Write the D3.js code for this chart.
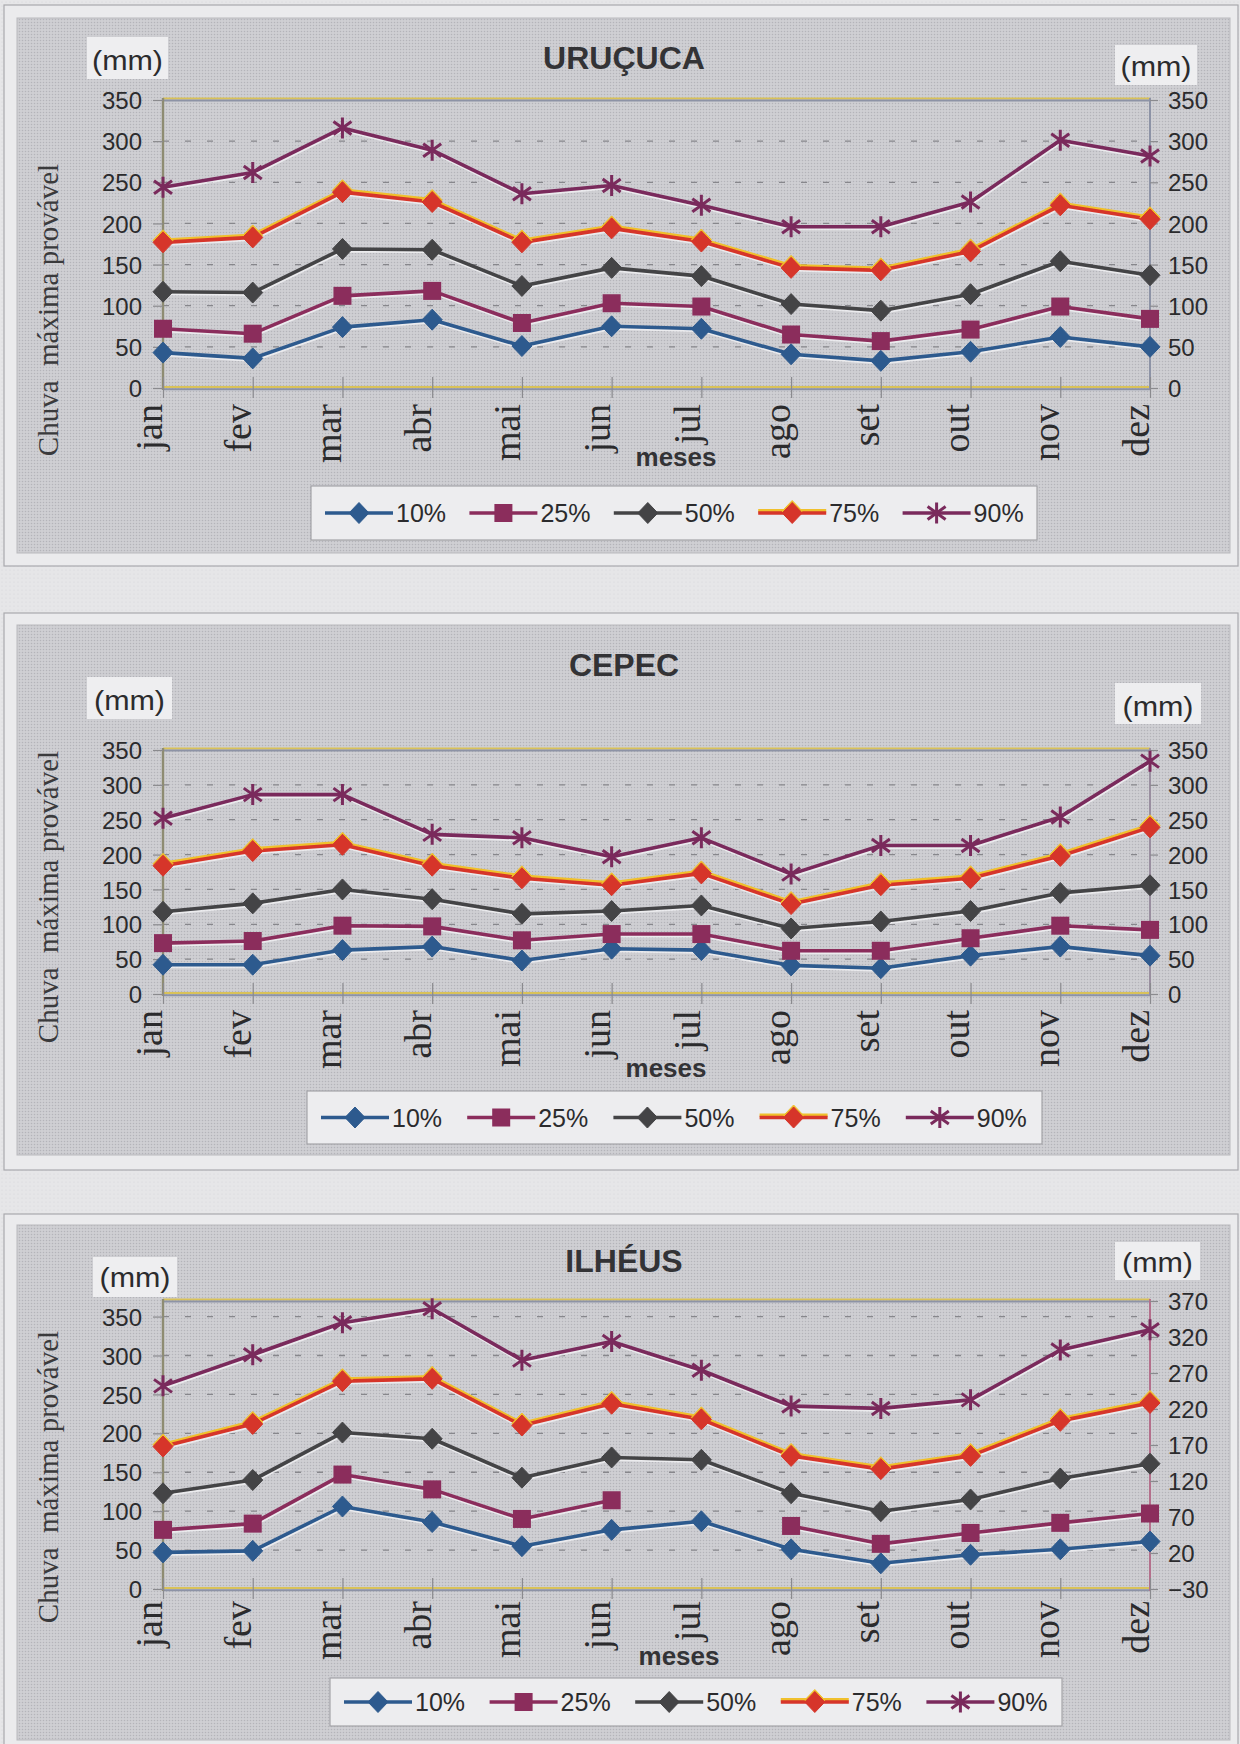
<!DOCTYPE html>
<html lang="pt">
<head>
<meta charset="utf-8">
<title>Chuva máxima provável</title>
<script src="https://cdn.jsdelivr.net/npm/d3@7"></script>
<style>
  html, body { margin: 0; padding: 0; background: #e4e4e6; }
  svg { display: block; }
</style>
</head>
<body>
<svg id="page" width="1240" height="1744"></svg>
<script>
// Months and probability levels
const months = ["jan", "fev", "mar", "abr", "mai", "jun", "jul", "ago", "set", "out", "nov", "dez"];
const levels = ["10%", "25%", "50%", "75%", "90%"];

// URUÇUCA (mm)
const uru10 = [43, 36, 74, 83, 51, 75, 72, 41, 33, 44, 62, 50];
const uru25 = [72, 66, 112, 118, 79, 103, 99, 65, 57, 71, 99, 84];
const uru50 = [117, 116, 169, 168, 124, 146, 136, 102, 94, 114, 154, 137];
const uru75 = [177, 183, 238, 226, 177, 194, 178, 146, 143, 166, 222, 205];
const uru90 = [244, 262, 316, 289, 236, 246, 222, 196, 196, 226, 301, 282];

// CEPEC (mm)
const cep10 = [42, 42, 63, 68, 48, 65, 63, 41, 37, 55, 68, 55];
const cep25 = [73, 76, 98, 97, 77, 86, 86, 62, 62, 80, 98, 92];
const cep50 = [118, 130, 150, 136, 115, 119, 127, 94, 104, 119, 145, 156];
const cep75 = [184, 205, 214, 184, 166, 156, 173, 129, 156, 166, 198, 239];
const cep90 = [252, 286, 286, 229, 224, 197, 224, 172, 213, 213, 254, 334];

// ILHÉUS (mm) — no 25% value for jul
const ilh10 = [47, 49, 106, 86, 55, 76, 87, 51, 33, 44, 51, 61];
const ilh25 = [76, 84, 147, 128, 90, 114, null, 81, 58, 72, 85, 97];
const ilh50 = [123, 140, 201, 193, 143, 169, 166, 123, 100, 115, 142, 161];
const ilh75 = [183, 212, 267, 270, 210, 238, 218, 171, 154, 171, 216, 239];
const ilh90 = [261, 301, 342, 360, 294, 318, 281, 235, 232, 243, 307, 333];

// Axis tick labels
const ticks0to350 = [0, 50, 100, 150, 200, 250, 300, 350];
const ticksIlheusRight = [-30, 20, 70, 120, 170, 220, 270, 320, 370];

// Station definitions
const stations = [
  { title: "URUÇUCA", series: [uru10, uru25, uru50, uru75, uru90],
    leftDomain: [0, 350], leftTicks: ticks0to350,
    rightDomain: [0, 350], rightTicks: ticks0to350 },
  { title: "CEPEC", series: [cep10, cep25, cep50, cep75, cep90],
    leftDomain: [0, 350], leftTicks: ticks0to350,
    rightDomain: [0, 350], rightTicks: ticks0to350 },
  { title: "ILHÉUS", series: [ilh10, ilh25, ilh50, ilh75, ilh90],
    leftDomain: [0, 370], leftTicks: ticks0to350,
    rightDomain: [-30, 370], rightTicks: ticksIlheusRight }
];

// Page layout of each panel
const layouts = [
  { outer: [4, 5, 1234, 561], panel: [17, 18, 1213, 535],
    plot: { left: 163, right: 1150, top: 100, bottom: 388 }, monthGap: 16,
    titleY: 69, mmL: [87, 37, 81, 42, 70], mmR: [1115, 45, 82, 40, 76],
    ylabY: 310, meses: [676, 466], legend: [311, 486, 726, 54], rightAxisColor: "#8d93a6" },
  { outer: [4, 613, 1234, 557], panel: [17, 625, 1213, 530],
    plot: { left: 163, right: 1150, top: 750, bottom: 994 }, monthGap: 16,
    titleY: 676, mmL: [87, 677, 85, 42, 710], mmR: [1115, 683, 86, 41, 716],
    ylabY: 897, meses: [666, 1077], legend: [307, 1091, 735, 53], rightAxisColor: "#9a8fa0" },
  { outer: [4, 1214, 1234, 540], panel: [17, 1225, 1213, 515],
    plot: { left: 163, right: 1150, top: 1301, bottom: 1589 }, monthGap: 12,
    titleY: 1272, mmL: [93, 1257, 84, 40, 1287], mmR: [1115, 1242, 85, 38, 1272],
    ylabY: 1477, meses: [679, 1665], legend: [330, 1678, 732, 48], rightAxisColor: "#b4708c" }
];

// Series styling
const styles = [
  { color: "#2d5a8e", marker: "diamond" },
  { color: "#8b2d5c", marker: "square" },
  { color: "#444446", marker: "diamond" },
  { color: "#d6352a", marker: "diamond", under: "#f0c02c" },
  { color: "#7a2a5c", marker: "star" }
];

const SANS = "'Liberation Sans', Arial, Helvetica, sans-serif";
const SERIF = "'Liberation Serif', 'Times New Roman', serif";
const TEXT = "#2b2b2d";

const svg = d3.select("#page");
const defs = svg.append("defs");

// Halftone screen of the printed grey
const pat = defs.append("pattern").attr("id", "screen")
  .attr("width", 3).attr("height", 3).attr("patternUnits", "userSpaceOnUse");
pat.append("rect").attr("width", 3).attr("height", 3).attr("fill", "#cfcfd3");
pat.append("circle").attr("cx", 1.5).attr("cy", 1.5).attr("r", 0.75).attr("fill", "#b4b4b9");

const pat2 = defs.append("pattern").attr("id", "paper")
  .attr("width", 4).attr("height", 4).attr("patternUnits", "userSpaceOnUse");
pat2.append("rect").attr("width", 4).attr("height", 4).attr("fill", "#e6e6e8");
pat2.append("circle").attr("cx", 2).attr("cy", 2).attr("r", 0.6).attr("fill", "#d6d6d9");

svg.append("rect").attr("width", 1240).attr("height", 1744).attr("fill", "url(#paper)");

function drawMarker(g, type, color, cx, cy) {
  if (type === "diamond") {
    g.append("path")
      .attr("d", `M${cx},${cy - 10.5}L${cx + 10},${cy}L${cx},${cy + 10.5}L${cx - 10},${cy}Z`)
      .attr("fill", color).attr("stroke", color).attr("stroke-width", 1);
  } else if (type === "square") {
    g.append("rect").attr("x", cx - 9).attr("y", cy - 9)
      .attr("width", 18).attr("height", 18).attr("fill", color);
  } else {
    g.append("path")
      .attr("d", `M${cx},${cy - 10.5}V${cy + 10.5}M${cx - 9},${cy - 6.5}L${cx + 9},${cy + 6.5}M${cx - 9},${cy + 6.5}L${cx + 9},${cy - 6.5}`)
      .attr("stroke", color).attr("stroke-width", 3).attr("fill", "none");
  }
}

stations.forEach((st, k) => {
  const L = layouts[k];
  const P = L.plot;
  const g = svg.append("g");

  // frames
  g.append("rect").attr("x", L.outer[0]).attr("y", L.outer[1])
    .attr("width", L.outer[2]).attr("height", L.outer[3])
    .attr("fill", "#ebebed").attr("stroke", "#a9a9ad").attr("stroke-width", 1.2);
  g.append("rect").attr("x", L.panel[0]).attr("y", L.panel[1])
    .attr("width", L.panel[2]).attr("height", L.panel[3])
    .attr("fill", "url(#screen)").attr("stroke", "#b9b9bd").attr("stroke-width", 1);

  const x = d3.scalePoint().domain(months).range([P.left, P.right]).padding(0);
  const yL = d3.scaleLinear().domain(st.leftDomain).range([P.bottom, P.top]);
  const yR = d3.scaleLinear().domain(st.rightDomain).range([P.bottom, P.top]);

  // gridlines
  g.append("g").selectAll("line")
    .data(st.leftTicks.filter(t => t > 0 && yL(t) > P.top + 2))
    .join("line")
    .attr("x1", P.left).attr("x2", P.right)
    .attr("y1", d => yL(d)).attr("y2", d => yL(d))
    .attr("stroke", "#87878c").attr("stroke-width", 1.3)
    .attr("stroke-dasharray", "6,16");

  // plot frame
  g.append("line").attr("x1", P.left).attr("x2", P.right).attr("y1", P.top - 1.5).attr("y2", P.top - 1.5)
    .attr("stroke", "#d9c25a").attr("stroke-width", 2);
  g.append("line").attr("x1", P.left).attr("x2", P.right).attr("y1", P.top + 0.5).attr("y2", P.top + 0.5)
    .attr("stroke", "#8d93a6").attr("stroke-width", 2);
  g.append("line").attr("x1", P.left).attr("x2", P.right).attr("y1", P.bottom - 1).attr("y2", P.bottom - 1)
    .attr("stroke", "#d9c25a").attr("stroke-width", 2);
  g.append("line").attr("x1", P.left).attr("x2", P.right).attr("y1", P.bottom + 1.2).attr("y2", P.bottom + 1.2)
    .attr("stroke", "#8d93a6").attr("stroke-width", 2);
  g.append("line").attr("x1", P.left).attr("x2", P.left).attr("y1", P.top - 2).attr("y2", P.bottom + 2)
    .attr("stroke", "#8e8c72").attr("stroke-width", 2.4);
  g.append("line").attr("x1", P.right).attr("x2", P.right).attr("y1", P.top - 2).attr("y2", P.bottom + 2)
    .attr("stroke", L.rightAxisColor).attr("stroke-width", 2);

  // left axis
  const axL = g.append("g").attr("transform", `translate(${P.left},0)`)
    .call(d3.axisLeft(yL).tickValues(st.leftTicks).tickSize(10).tickPadding(11));
  axL.select(".domain").remove();
  axL.selectAll(".tick line").attr("stroke", "#8a8a8e").attr("stroke-width", 1.2);
  axL.selectAll(".tick text").attr("font-family", SANS).attr("font-size", 24)
    .attr("fill", TEXT).attr("dy", "0.36em");

  // right axis
  const axR = g.append("g").attr("transform", `translate(${P.right},0)`)
    .call(d3.axisRight(yR).tickValues(st.rightTicks).tickSize(8).tickPadding(10));
  axR.select(".domain").remove();
  axR.selectAll(".tick line").attr("stroke", "#8a8a8e").attr("stroke-width", 1.2);
  axR.selectAll(".tick text").attr("font-family", SANS).attr("font-size", 24)
    .attr("fill", TEXT).attr("dy", "0.36em");

  // month axis
  const axB = g.append("g").attr("transform", `translate(0,${P.bottom})`)
    .call(d3.axisBottom(x).tickSize(10));
  axB.select(".domain").remove();
  axB.selectAll(".tick line").attr("y1", -11).attr("y2", 10)
    .attr("stroke", "#8a8a8e").attr("stroke-width", 1.2);
  axB.selectAll(".tick text")
    .attr("x", 0).attr("y", 0).attr("dy", 0)
    .attr("transform", `translate(-2,${L.monthGap}) rotate(-90)`)
    .attr("text-anchor", "end")
    .attr("font-family", SERIF).attr("font-size", 38).attr("fill", TEXT);

  // series lines
  const line = d3.line()
    .defined(d => d != null)
    .x((d, i) => x(months[i]))
    .y(d => yL(d));

  st.series.forEach((vals, s) => {
    const sty = styles[s];
    g.append("path").attr("d", line(vals)).attr("fill", "none")
      .attr("stroke", "#f3f3f5").attr("stroke-width", 3.5).attr("opacity", 0.8)
      .attr("transform", "translate(0.6,1.8)").attr("stroke-linejoin", "round");
    if (sty.under) {
      g.append("path").attr("d", line(vals)).attr("fill", "none")
        .attr("stroke", sty.under).attr("stroke-width", 3.5)
        .attr("transform", "translate(0,-2.2)").attr("stroke-linejoin", "round");
    }
    g.append("path").attr("d", line(vals)).attr("fill", "none")
      .attr("stroke", sty.color).attr("stroke-width", 3.6).attr("stroke-linejoin", "round");
  });

  // markers
  st.series.forEach((vals, s) => {
    const sty = styles[s];
    const mg = g.append("g");
    vals.forEach((v, i) => {
      if (v == null) return;
      const cx = x(months[i]), cy = yL(v);
      if (sty.under) drawMarker(mg, sty.marker, sty.under, cx, cy - 2);
      drawMarker(mg, sty.marker, sty.color, cx, cy);
    });
  });

  // title
  g.append("text").attr("x", 624).attr("y", L.titleY).attr("text-anchor", "middle")
    .attr("font-family", SANS).attr("font-weight", "bold").attr("font-size", 32)
    .attr("fill", "#333336").text(st.title);

  // unit labels
  [L.mmL, L.mmR].forEach(b => {
    g.append("rect").attr("x", b[0]).attr("y", b[1]).attr("width", b[2]).attr("height", b[3])
      .attr("fill", "#eeeef0");
    g.append("text").attr("x", b[0] + b[2] / 2).attr("y", b[4]).attr("text-anchor", "middle")
      .attr("font-family", SANS).attr("font-size", 27).attr("fill", TEXT)
      .attr("textLength", 71).attr("lengthAdjust", "spacingAndGlyphs")
      .text("(mm)");
  });

  // vertical axis title
  g.append("text")
    .attr("transform", `translate(58,${L.ylabY}) rotate(-90)`)
    .attr("text-anchor", "middle")
    .attr("font-family", SERIF).attr("font-size", 29).attr("fill", "#3a3a3c")
    .style("white-space", "pre")
    .text("Chuva  máxima provável");

  // horizontal axis title
  g.append("text").attr("x", L.meses[0]).attr("y", L.meses[1]).attr("text-anchor", "middle")
    .attr("font-family", SANS).attr("font-weight", "bold").attr("font-size", 26)
    .attr("fill", "#333336").text("meses");

  // legend
  const [lx, ly, lw, lh] = L.legend;
  const lg = g.append("g");
  lg.append("rect").attr("x", lx).attr("y", ly).attr("width", lw).attr("height", lh)
    .attr("fill", "#ededef").attr("stroke", "#a3a3a7").attr("stroke-width", 1.2);
  const step = (lw - 4) / 5;
  const cy = ly + lh / 2;
  levels.forEach((name, s) => {
    const sty = styles[s];
    const x0 = lx + 14 + s * step;
    if (sty.under) {
      lg.append("line").attr("x1", x0).attr("x2", x0 + 68).attr("y1", cy - 2.2).attr("y2", cy - 2.2)
        .attr("stroke", sty.under).attr("stroke-width", 3.5);
    }
    lg.append("line").attr("x1", x0).attr("x2", x0 + 68).attr("y1", cy).attr("y2", cy)
      .attr("stroke", sty.color).attr("stroke-width", 3.6);
    if (sty.under) drawMarker(lg, sty.marker, sty.under, x0 + 34, cy - 2);
    drawMarker(lg, sty.marker, sty.color, x0 + 34, cy);
    lg.append("text").attr("x", x0 + 71).attr("y", cy).attr("dy", "0.36em")
      .attr("font-family", SANS).attr("font-size", 25).attr("fill", TEXT).text(name);
  });
});
</script>
</body>
</html>
